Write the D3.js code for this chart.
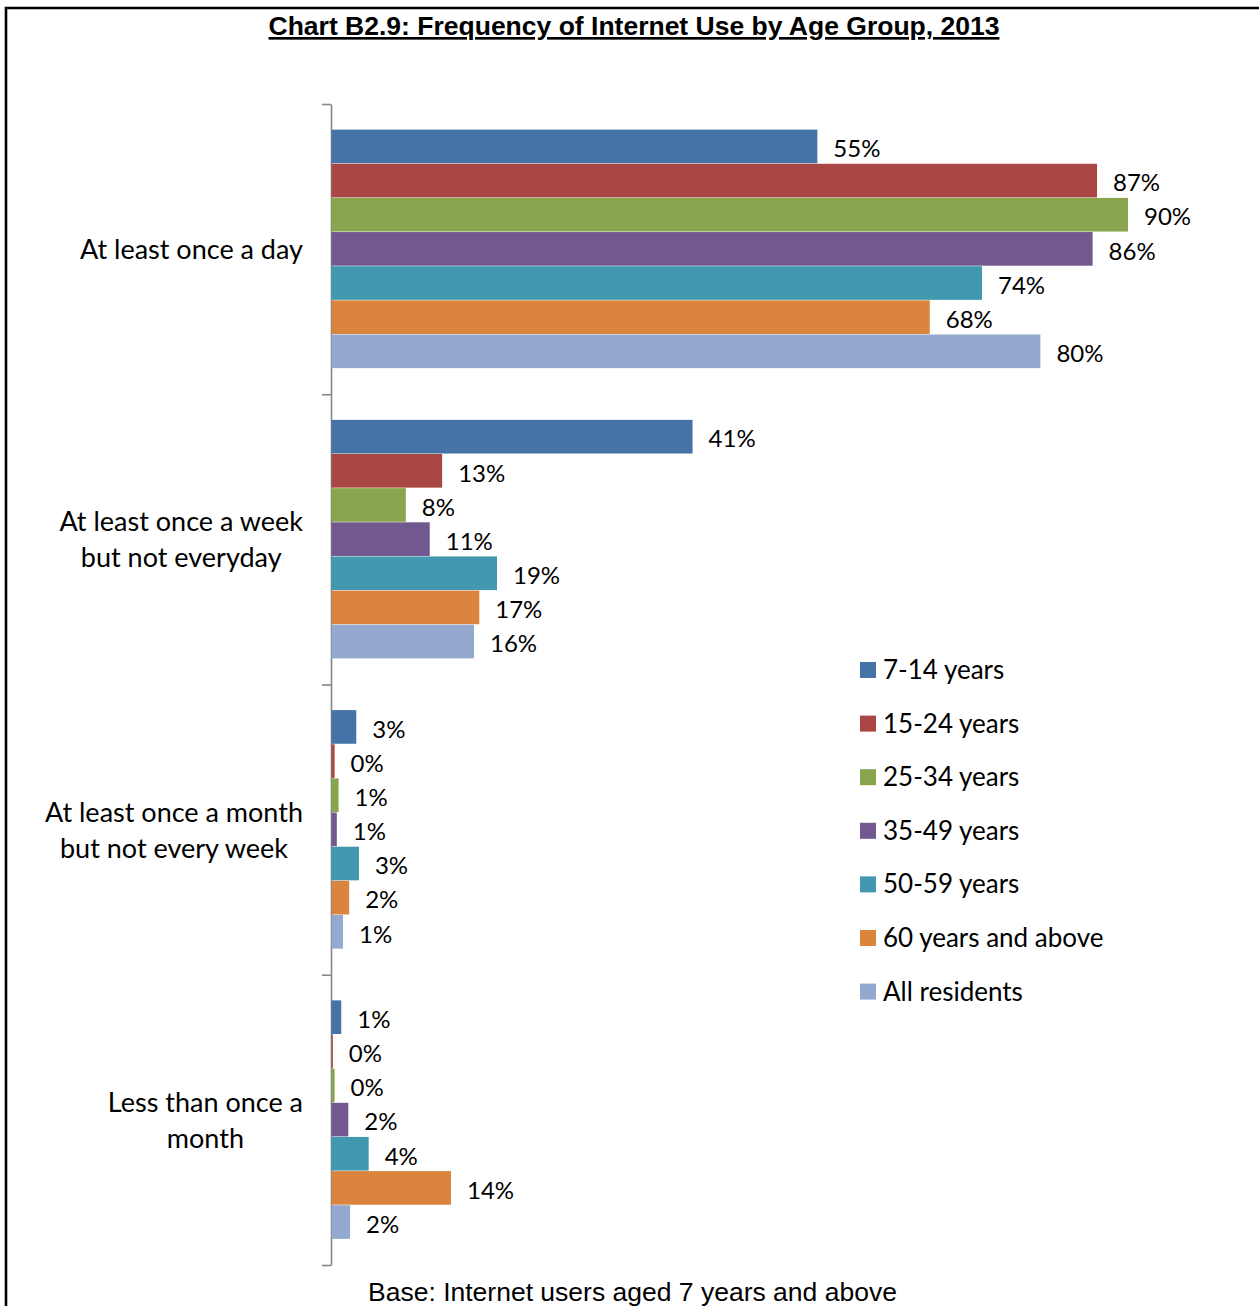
<!DOCTYPE html>
<html>
<head>
<meta charset="utf-8">
<script src="https://cdn.jsdelivr.net/npm/d3@7"></script>
<style>
  html, body { margin: 0; padding: 0; background: #fff; }
  svg { display: block; }
</style>
</head>
<body>
<svg id="chart" width="1259" height="1306"></svg>
<script>
// Frequency categories (top to bottom) and label lines
const categories = [
  "At least once a day",
  "At least once a week but not everyday",
  "At least once a month but not every week",
  "Less than once a month"
];
const categoryLines = [
  ["At least once a day"],
  ["At least once a week", "but not everyday"],
  ["At least once a month", "but not every week"],
  ["Less than once a", "month"]
];

// Age groups (series)
const series = ["7-14 years", "15-24 years", "25-34 years", "35-49 years", "50-59 years", "60 years and above", "All residents"];
const colors = ["#4572A7", "#AA4643", "#89A54E", "#71588F", "#4198AF", "#DB843D", "#93A9CF"];

// Share of internet users, per series, one value per category
const v714   = [0.549, 0.408, 0.028, 0.011];
const v1524  = [0.865, 0.125, 0.0035, 0.0015];
const v2534  = [0.900, 0.084, 0.008, 0.0035];
const v3549  = [0.860, 0.111, 0.006, 0.019];
const v5059  = [0.735, 0.187, 0.031, 0.042];
const v60    = [0.676, 0.167, 0.020, 0.135];
const vAll   = [0.801, 0.161, 0.013, 0.021];
const values = [v714, v1524, v2534, v3549, v5059, v60, vAll];

const titleText = "Chart B2.9: Frequency of Internet Use by Age Group, 2013";
const footText = "Base: Internet users aged 7 years and above";

const svg = d3.select("#chart");
const W = 1259, H = 1306;
const labelFont = "Lato, 'Open Sans', sans-serif";

// Frame (top and left rules)
svg.append("path")
  .attr("d", `M6,${H} L6,8 L${W},8`)
  .attr("fill", "none")
  .attr("stroke", "#000")
  .attr("stroke-width", 2.6);

// Title
svg.append("text")
  .attr("x", 634).attr("y", 35)
  .attr("text-anchor", "middle")
  .attr("font-family", "'Liberation Sans', Arial, sans-serif")
  .attr("font-weight", "bold")
  .attr("font-size", 26.5)
  .attr("text-decoration", "underline")
  .attr("fill", "#000")
  .text(titleText);

// Scales
const plotTop = 104, plotBottom = 1265, x0 = 331.5;
const x = d3.scaleLinear().domain([0, 0.9]).range([x0, 1128]);
const yBand = d3.scaleBand().domain(categories).range([plotTop, plotBottom]).paddingInner(0).paddingOuter(0);
const barGroupFrac = 239 / 290.25;
const yInner = d3.scaleBand()
  .domain(series)
  .range([0, yBand.bandwidth() * barGroupFrac])
  .padding(0);
const groupOffset = (yBand.bandwidth() - yInner.range()[1]) / 2;

// Category axis with ticks on the band boundaries (drawn beneath the bars)
const yEdges = d3.scaleLinear().domain([0, categories.length]).range([plotTop, plotBottom]);
const axis = svg.append("g")
  .attr("transform", `translate(${x0 - 0.5},0)`)
  .call(d3.axisLeft(yEdges).tickValues(d3.range(categories.length + 1)).tickSize(9).tickSizeOuter(0).tickFormat(""));
axis.selectAll("path, line").attr("stroke", "#868686").attr("stroke-width", 1.6);

// Bars
const fmt = d3.format(".0%");
const groups = svg.append("g").selectAll("g")
  .data(categories)
  .join("g")
  .attr("transform", c => `translate(0,${yBand(c) + groupOffset})`);

groups.each(function(c, ci) {
  const g = d3.select(this);
  const rows = series.map((s, si) => ({ s, si, v: values[si][ci] }));
  g.selectAll("rect")
    .data(rows)
    .join("rect")
    .attr("x", x(0))
    .attr("y", d => yInner(d.s))
    .attr("width", d => x(d.v) - x(0))
    .attr("height", yInner.bandwidth() - 0.5)
    .attr("fill", d => colors[d.si]);
  g.selectAll("text")
    .data(rows)
    .join("text")
    .attr("x", d => x(d.v) + 16)
    .attr("y", d => yInner(d.s) + yInner.bandwidth() / 2 + 1)
    .attr("dominant-baseline", "central")
    .attr("font-family", labelFont)
    .attr("font-size", 24)
    .attr("fill", "#000")
    .text(d => fmt(d.v));
});

// Category labels (centred block, right edge near the axis)
const catLabels = svg.append("g");
categories.forEach((c, ci) => {
  const lines = categoryLines[ci];
  const t = catLabels.append("text")
    .attr("font-family", labelFont)
    .attr("font-size", 27)
    .attr("fill", "#000")
    .attr("text-anchor", "middle");
  lines.forEach((ln, li) => {
    t.append("tspan").attr("x", 0).attr("dy", li === 0 ? 0 : 36).text(ln);
  });
  const widths = [];
  t.selectAll("tspan").each(function() { widths.push(this.getComputedTextLength()); });
  const maxW = d3.max(widths);
  const cx = 303 - maxW / 2;
  const cy = yBand(c) + yBand.bandwidth() / 2;
  const firstY = cy - (lines.length - 1) * 18 - 1;
  t.attr("transform", `translate(${cx},${firstY})`).attr("dominant-baseline", "central");
});

// Legend
const legend = svg.append("g").attr("transform", "translate(860,670)");
const legendRows = legend.selectAll("g")
  .data(series)
  .join("g")
  .attr("transform", (d, i) => `translate(0,${i * 53.6})`);
legendRows.append("rect")
  .attr("x", 0).attr("y", -8)
  .attr("width", 16).attr("height", 16)
  .attr("fill", (d, i) => colors[i]);
legendRows.append("text")
  .attr("x", 23).attr("y", -1)
  .attr("dominant-baseline", "central")
  .attr("font-family", labelFont)
  .attr("font-size", 26)
  .attr("fill", "#000")
  .text(d => d);

// Base note (runs to the lower edge of the frame)
svg.append("text")
  .attr("x", 368).attr("y", 1301)
  .attr("font-family", "'Liberation Sans', Arial, sans-serif")
  .attr("font-size", 26.5)
  .attr("fill", "#000")
  .text(footText);
</script>
</body>
</html>
